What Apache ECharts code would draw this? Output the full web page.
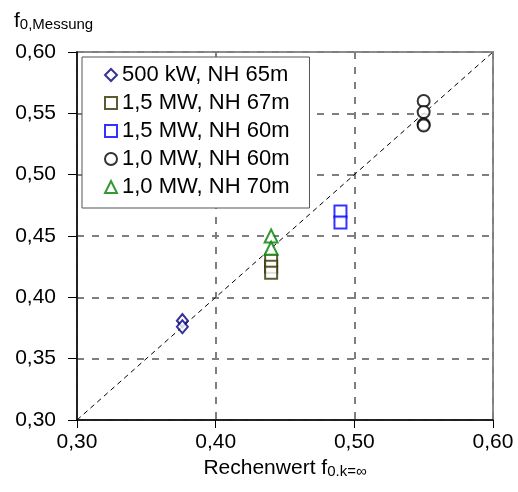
<!DOCTYPE html>
<html>
<head>
<meta charset="utf-8">
<script src="https://cdn.jsdelivr.net/npm/echarts@6/dist/echarts.min.js"></script>
<style>
  html, body { margin: 0; padding: 0; background: #fff; }
  #chart { width: 518px; height: 492px; }
</style>
</head>
<body>
<div id="chart"></div>
<script>
  // Messwerte: Rechenwert (x) gegen Messung (y)
  const names = ['500 kW, NH 65m', '1,5 MW, NH 67m', '1,5 MW, NH 60m', '1,0 MW, NH 60m', '1,0 MW, NH 70m'];
  const x500 = [0.376, 0.376];
  const y500 = [0.381, 0.376];
  const x15a = [0.44, 0.44, 0.44];
  const y15a = [0.43, 0.425, 0.42];
  const x15b = [0.49, 0.49];
  const y15b = [0.47, 0.461];
  const x10a = [0.55, 0.55, 0.55, 0.55];
  const y10a = [0.56, 0.551, 0.541, 0.54];
  const x10b = [0.44, 0.44];
  const y10b = [0.45, 0.44];
  // Winkelhalbierende f_Messung = f_Rechnung
  const refLine = [0.3, 0.6];

  const font = 'Liberation Sans, Arial, sans-serif';
  const pairs = (xs, ys) => xs.map((x, i) => [x, ys[i]]);
  const fmt = v => v.toFixed(2).replace('.', ',');

  function pointSeries(name, xs, ys, symbol, color, size) {
    return {
      name: name,
      type: 'scatter',
      symbol: symbol,
      symbolSize: size,
      itemStyle: { color: color, borderWidth: 1.5 },
      data: pairs(xs, ys),
      z: 3
    };
  }

  let myChart = echarts.init(document.getElementById('chart'));

  let option = {
    animation: false,
    textStyle: { fontFamily: font, color: '#000' },
    grid: {
      left: 77, right: 25, top: 52, bottom: 72,
      outerBoundsMode: 'none',
      containLabel: false,
      show: true, borderColor: '#8c8c8c', borderWidth: 2
    },
    legend: {
      data: names,
      orient: 'vertical',
      left: 82,
      top: 57,
      padding: [7, 20, 10, 22],
      itemGap: 6,
      itemWidth: 12,
      itemHeight: 12,
      backgroundColor: '#fff',
      borderColor: '#555',
      borderWidth: 1,
      borderRadius: 0,
      textStyle: { fontFamily: font, fontSize: 22, color: '#000' }
    },
    xAxis: {
      type: 'value',
      min: 0.3,
      max: 0.6,
      interval: 0.1,
      name: '{m|Rechenwert f}{s|0.k=∞}',
      nameLocation: 'middle',
      nameGap: 31,
      nameTextStyle: {
        rich: {
          m: { fontFamily: font, fontSize: 21, color: '#000', verticalAlign: 'bottom', lineHeight: 26 },
          s: { fontFamily: font, fontSize: 15, color: '#000', verticalAlign: 'bottom', lineHeight: 18 }
        }
      },
      axisLine: { lineStyle: { color: '#000', width: 1.5 } },
      axisTick: { length: 8, lineStyle: { color: '#000' } },
      axisLabel: { fontSize: 21, color: '#000', margin: 12, formatter: fmt },
      splitLine: { lineStyle: { color: '#7f7f7f', width: 2, type: [7, 8] } }
    },
    yAxis: {
      type: 'value',
      min: 0.3,
      max: 0.6,
      interval: 0.05,
      name: '{m|f}{s|0,Messung}',
      nameLocation: 'end',
      nameGap: 20,
      nameTextStyle: {
        align: 'left',
        padding: [0, 0, 0, -63],
        rich: {
          m: { fontFamily: font, fontSize: 21, color: '#000', verticalAlign: 'bottom', lineHeight: 26 },
          s: { fontFamily: font, fontSize: 15, color: '#000', verticalAlign: 'bottom', lineHeight: 18 }
        }
      },
      axisLine: { show: true, lineStyle: { color: '#000', width: 1.5 } },
      axisTick: { show: true, length: 9, lineStyle: { color: '#000' } },
      axisLabel: { fontSize: 21, color: '#000', margin: 21, formatter: fmt },
      splitLine: { lineStyle: { color: '#7f7f7f', width: 2, type: [7, 8] } }
    },
    series: [
      {
        type: 'line',
        data: pairs(refLine, refLine),
        symbol: 'none',
        silent: true,
        lineStyle: { color: '#000', width: 1, type: [5, 4] },
        z: 2
      },
      pointSeries(names[0], x500, y500, 'emptyDiamond', '#000080', [11, 13]),
      pointSeries(names[1], x15a, y15a, 'emptyRect', '#333300', 12),
      pointSeries(names[2], x15b, y15b, 'emptyRect', '#0000ff', 12),
      pointSeries(names[3], x10a, y10a, 'emptyCircle', '#000', 12),
      pointSeries(names[4], x10b, y10b, 'emptyTriangle', '#008000', 13)
    ]
  };

  myChart.setOption(option);
</script>
</body>
</html>
